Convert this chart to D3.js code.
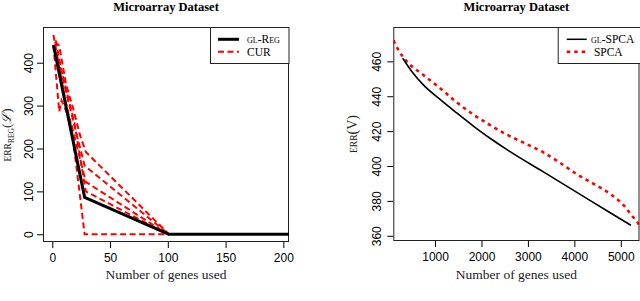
<!DOCTYPE html>
<html><head><meta charset="utf-8">
<script src="https://cdn.jsdelivr.net/npm/d3@7/dist/d3.min.js"></script>
<style>
html,body{margin:0;padding:0;background:#fff;}
svg{display:block;}
</style></head>
<body>
<svg id="c" width="640" height="301"></svg>
<script>
// ---------- DATA ----------
const titleText = "Microarray Dataset";
const xLabel = "Number of genes used";

// Left panel: GL-Reg (black) and CUR (red dashed, several runs)
const leftXTicks = [0, 50, 100, 150, 200];
const leftYTicks = [0, 100, 200, 300, 400];
const glRegX = [1, 28, 101, 210];
const glRegY = [441, 86, 0, 0];
const curRun1 = [[1,465],[4,420],[10,330],[17,243],[28,0],[101,0]];
const curRun2 = [[2,448],[6,440],[12,348],[18,294],[24,231],[29,192],[101,0]];
const curRun3 = [[1,440],[6,286],[8,312],[16,262],[29,122],[100,0]];
const curRun4 = [[2,432],[9,370],[19,262],[29,100],[100,0]];
const curRun5 = [[3,452],[10,352],[20,244],[28,160],[100,2]];
const curRuns = [curRun1, curRun2, curRun3, curRun4, curRun5];

// Right panel: GL-SPCA (black) and SPCA (red dashed)
const rightXTicks = [1000, 2000, 3000, 4000, 5000];
const rightYTicks = [360, 380, 400, 420, 440, 460];
const glSpcaX = [304, 500, 748, 1108, 1468, 1825, 2185, 2616, 3334, 4054, 4772, 5218];
const glSpcaY = [461.8, 454.2, 446.5, 438.2, 430.4, 422.9, 415.9, 408.2, 396.6, 384.9, 373.2, 366];
const spcaX = [40, 200, 390, 748, 1108, 1468, 1825, 2185, 2545, 2976, 3334, 3694, 4054, 4412, 4772, 5060, 5239, 5400, 5460];
const spcaY = [476, 467, 460, 452.2, 444.6, 436.5, 429.5, 423.5, 418, 412.5, 407.8, 401.8, 395.3, 389.8, 384, 377.5, 371.5, 366, 362.5];

const leftLegend = [{label:"gl-Reg", color:"#000", width:3, dash:null},
                    {label:"CUR", color:"#ff0000", width:2, dash:"6,3.5"}];
const rightLegend = [{label:"gl-SPCA", color:"#000", width:1.5, dash:null},
                     {label:" SPCA", color:"#ff0000", width:2.6, dash:"3.5,4"}];

// ---------- DRAW ----------
const svg = d3.select("#c");
const serif = "'Liberation Serif','Times New Roman','DejaVu Serif',serif";
const sans = "'Liberation Sans',Arial,sans-serif";

function panel(opt) {
  const g = svg.append("g");
  const x = d3.scaleLinear().domain(opt.xDom).range([opt.L, opt.R]);
  const y = d3.scaleLinear().domain(opt.yDom).range([opt.B, opt.T]);
  const clipId = "clip" + opt.id;
  svg.append("clipPath").attr("id", clipId).append("rect")
     .attr("x", opt.L).attr("y", opt.T).attr("width", opt.R - opt.L).attr("height", opt.B - opt.T);

  // axes
  const xa = g.append("g").attr("transform", `translate(0,${opt.B})`)
    .call(d3.axisBottom(x).tickValues(opt.xTicks).tickFormat(d3.format("d"))
      .tickSize(6).tickPadding(5.3).tickSizeOuter(0));
  xa.select(".domain").remove();
  xa.selectAll("text").attr("font-family", sans).attr("font-size", 12).attr("fill", "#000");
  xa.selectAll("line").attr("stroke", "#000");

  const ya = g.append("g").attr("transform", `translate(${opt.L},0)`)
    .call(d3.axisLeft(y).tickValues(opt.yTicks).tickFormat(d3.format("d")).tickSize(6).tickSizeOuter(0));
  ya.select(".domain").remove();
  ya.selectAll("line").attr("stroke", "#000");
  ya.selectAll("text")
    .attr("x", null).attr("dy", "0.35em")
    .attr("transform", `translate(${-opt.yLabOff},0) rotate(-90)`)
    .attr("text-anchor", "middle")
    .attr("font-family", sans).attr("font-size", 12).attr("fill", "#000");

  // box
  g.append("rect").attr("x", opt.L + 0.5).attr("y", opt.T + 0.5)
    .attr("width", opt.R - opt.L - 1).attr("height", opt.B - opt.T - 1)
    .attr("fill", "none").attr("stroke", "#222").attr("stroke-width", 1);

  // title
  g.append("text").attr("x", (opt.L + opt.R) / 2).attr("y", 10.5)
    .attr("text-anchor", "middle").attr("font-family", serif)
    .attr("font-weight", "bold").attr("font-size", 12.5).text(titleText);
  // x label
  g.append("text").attr("x", (opt.L + opt.R) / 2).attr("y", 278.5)
    .attr("text-anchor", "middle").attr("font-family", serif)
    .attr("font-size", 13.5).attr("fill", "#222").text(xLabel);

  const plot = g.append("g").attr("clip-path", `url(#${clipId})`);
  return {g, x, y, plot};
}

// Left panel
const P1 = panel({id:1, L:43, R:289, T:27, B:242, xDom:[-8.05, 204.9], yDom:[-18, 483.2],
  xTicks:leftXTicks, yTicks:leftYTicks, yLabOff:14});
const line1 = d3.line().x(d => P1.x(d[0])).y(d => P1.y(d[1]));
curRuns.forEach(run => {
  P1.plot.append("path").attr("d", line1(run)).attr("fill", "none")
    .attr("stroke", "#ff0000").attr("stroke-width", 2).attr("stroke-dasharray", "6,3.5");
});
P1.plot.append("path").attr("d", line1(glRegX.map((v, i) => [v, glRegY[i]])))
  .attr("fill", "none").attr("stroke", "#000").attr("stroke-width", 3).attr("stroke-linejoin", "round");

// Right panel
const P2 = panel({id:2, L:393.3, R:639.5, T:27, B:241, xDom:[101, 5403], yDom:[357, 479.7],
  xTicks:rightXTicks, yTicks:rightYTicks, yLabOff:16.5});
const line2 = d3.line().x(d => P2.x(d[0])).y(d => P2.y(d[1])).curve(d3.curveMonotoneX);
P2.plot.append("path").attr("d", line2(spcaX.map((v, i) => [v, spcaY[i]])))
  .attr("fill", "none").attr("stroke", "#ff0000").attr("stroke-width", 2.6).attr("stroke-dasharray", "3.5,4");
P2.plot.append("path").attr("d", line2(glSpcaX.map((v, i) => [v, glSpcaY[i]])))
  .attr("fill", "none").attr("stroke", "#000").attr("stroke-width", 1.6);

// Legends
function legend(items, bx, bw, lx1, lx2, tx) {
  const g = svg.append("g");
  g.append("rect").attr("x", bx + 0.5).attr("y", 27.5).attr("width", bw).attr("height", 36)
    .attr("fill", "#fff").attr("stroke", "#222").attr("stroke-width", 1);
  items.forEach((it, i) => {
    const yy = 39.3 + i * 12.4;
    g.append("line").attr("x1", lx1).attr("x2", lx2).attr("y1", yy).attr("y2", yy)
      .attr("stroke", it.color).attr("stroke-width", it.width)
      .attr("stroke-dasharray", it.dash);
    g.append("text").attr("x", tx).attr("y", yy).attr("dy", "0.35em")
      .attr("font-family", serif).attr("font-size", 11.5)
      .style("font-variant", "small-caps").style("white-space", "pre").text(it.label);
  });
}
legend(leftLegend, 210, 78.5, 218, 239, 247);
legend(rightLegend, 557.7, 90, 566.7, 586.7, 591);

// y axis labels
const yl1 = svg.append("text").attr("transform", "translate(11,135) rotate(-90)")
  .attr("text-anchor", "middle").attr("font-family", serif).attr("fill", "#222");
yl1.append("tspan").attr("font-size", 9.5).text("ERR");
yl1.append("tspan").attr("font-size", 7.5).attr("dy", 2.5).text("REG");
yl1.append("tspan").attr("font-size", 13).attr("dy", -2.5).text("(");
yl1.append("tspan").attr("font-size", 13).attr("font-style", "italic").text("ℒ");
yl1.append("tspan").attr("font-size", 13).text(")");

const yl2 = svg.append("text").attr("transform", "translate(357,134) rotate(-90)")
  .attr("text-anchor", "middle").attr("font-family", serif).attr("fill", "#222");
yl2.append("tspan").attr("font-size", 9.5).text("ERR");
yl2.append("tspan").attr("font-size", 14).text("(V)");
</script>
</body></html>
